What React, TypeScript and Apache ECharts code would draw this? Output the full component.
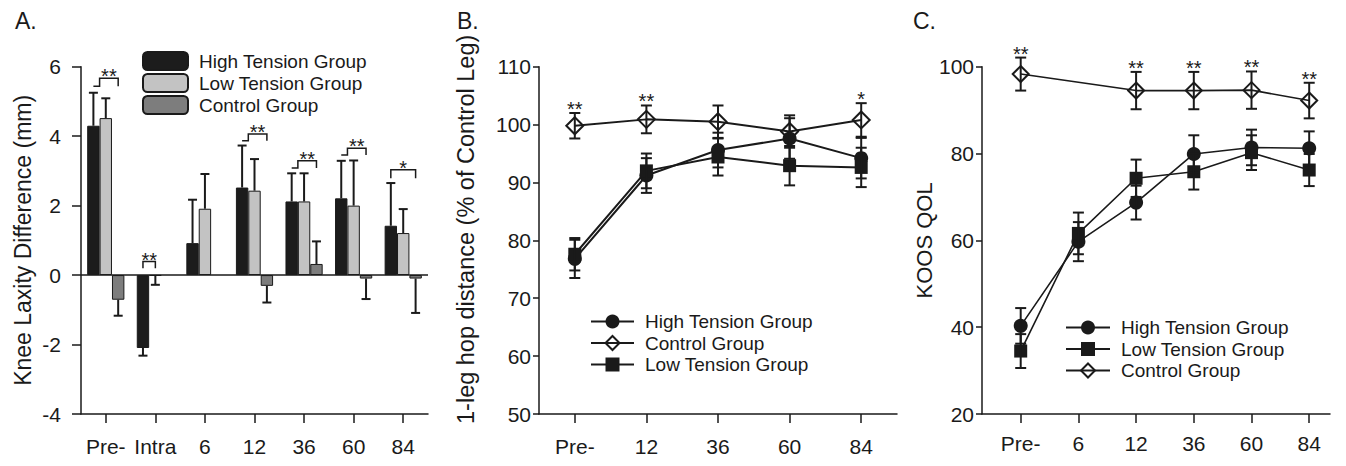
import React, { useEffect, useRef } from 'react';
import * as echarts from 'echarts';

// ---------- Panel A: knee laxity (bars) ----------
const catsA = ['Pre-', 'Intra', '6', '12', '36', '60', '84'];
const highA = [4.3, -2.1, 0.92, 2.52, 2.12, 2.21, 1.42];
const highAErr = [0.95, 0.22, 1.25, 1.21, 0.81, 1.08, 1.23];
const lowA = [4.52, -0.02, 1.91, 2.43, 2.12, 2.0, 1.21];
const lowAErr = [0.57, 0.26, 1.0, 0.91, 0.81, 1.3, 0.69];
const controlA = [-0.71, null, null, -0.31, 0.32, -0.1, -0.1];
const controlAErr = [0.46, null, null, 0.48, 0.65, 0.59, 0.99];
const yMinA = -4;
const yMaxA = 6;
const yStepA = 2;
const bracketCat = [0, 1, 3, 4, 5, 6];
const bracketTop = [5.67, 0.39, 4.06, 3.29, 3.65, 3.03];
const bracketBase = [5.44, 0.2, 3.87, 3.08, 3.46, 2.79];
const bracketKind = ['pair', 'hl', 'pair', 'pair', 'pair', 'hc'];
const bracketStars = ['**', '**', '**', '**', '**', '*'];

// ---------- Panel B: 1-leg hop distance ----------
const catsB = ['Pre-', '12', '36', '60', '84'];
const highB = [76.8, 91.2, 95.6, 97.6, 94.2];
const highBErr = [3.3, 3.0, 3.0, 3.5, 3.5];
const controlB = [99.8, 100.9, 100.5, 98.8, 100.8];
const controlBErr = [2.2, 2.4, 2.8, 2.8, 2.9];
const lowB = [77.6, 92.0, 94.4, 92.9, 92.6];
const lowBErr = [2.8, 3.0, 3.2, 3.4, 3.4];
const starsB = ['**', '**', '', '', '*'];
const yMinB = 50;
const yMaxB = 110;
const yStepB = 10;

// ---------- Panel C: KOOS QOL ----------
const catsC = ['Pre-', '6', '12', '36', '60', '84'];
const highC = [40.3, 59.7, 68.7, 79.9, 81.4, 81.2];
const highCErr = [4.1, 4.5, 3.9, 4.3, 4.1, 3.9];
const lowC = [34.5, 61.6, 74.3, 75.8, 80.2, 76.2];
const lowCErr = [3.9, 4.8, 4.3, 4.1, 4.0, 3.7];
const controlC = [98.3, null, 94.5, 94.5, 94.6, 92.2];
const controlCErr = [3.8, null, 4.3, 4.3, 4.3, 4.1];
const starsC = ['**', '', '**', '**', '**', '**'];
const yMinC = 20;
const yMaxC = 100;
const yStepC = 20;

const names = ['High Tension Group', 'Low Tension Group', 'Control Group'];

const FONT = '"Liberation Sans", Arial, Helvetica, sans-serif';
const INK = '#1a1a1a';

function buildOption() {
  const axisLine = { show: true, onZero: false, lineStyle: { color: INK, width: 1.5 } };
  const tick = (len: number) => ({ show: true, inside: false, length: len, lineStyle: { color: INK, width: 1.5 } });
  const label = (margin: number) => ({ color: INK, fontSize: 21, fontFamily: FONT, margin });

  // error bars for grouped bars
  const errA: number[][] = [];
  [highA, lowA, controlA].forEach((vals, k) => {
    const errs = [highAErr, lowAErr, controlAErr][k];
    vals.forEach((v, i) => {
      if (v != null && errs[i] != null) errA.push([i, v as number, errs[i] as number, k]);
    });
  });

  const lineStyleErr = { stroke: INK, lineWidth: 2, fill: null };

  const errBarsA = {
    type: 'custom',
    xAxisIndex: 0,
    yAxisIndex: 0,
    z: 5,
    silent: true,
    data: errA,
    renderItem: (params: any, api: any) => {
      const ci = api.value(0);
      const v = api.value(1);
      const e = api.value(2);
      const k = api.value(3);
      const band = api.size([1, 0])[0];
      const p0 = api.coord([ci, v]);
      const p1 = api.coord([ci, v >= 0 ? v + e : v - e]);
      const x = p0[0] + (k - 1) * band * 0.25;
      const h = 4.5;
      return {
        type: 'group',
        children: [
          { type: 'line', shape: { x1: x, y1: p0[1], x2: x, y2: p1[1] }, style: lineStyleErr },
          { type: 'line', shape: { x1: x - h, y1: p1[1], x2: x + h, y2: p1[1] }, style: lineStyleErr },
        ],
      };
    },
  };

  const brackets = {
    type: 'custom',
    xAxisIndex: 0,
    yAxisIndex: 0,
    z: 6,
    silent: true,
    data: bracketCat.map((c, j) => [c, bracketTop[j], bracketBase[j], j]),
    renderItem: (params: any, api: any) => {
      const c = api.value(0);
      const j = api.value(3);
      const band = api.size([1, 0])[0];
      const pt = api.coord([c, api.value(1)]);
      const pb = api.coord([c, api.value(2)]);
      const bw = band * 0.25;
      const xh = pt[0] - bw;
      const xl = pt[0];
      const xc = pt[0] + bw;
      const yt = pt[1];
      const yb = pb[1];
      const kind = bracketKind[j];
      let pts: number[][];
      let mid: number;
      if (kind === 'pair') {
        const xm = pt[0] - bw / 2;
        pts = [[xh, yb], [xm, yb], [xm, yt], [xc, yt], [xc, yb]];
        mid = (xm + xc) / 2;
      } else if (kind === 'hl') {
        pts = [[xh, yb], [xh, yt], [xl, yt], [xl, yb]];
        mid = (xh + xl) / 2;
      } else {
        pts = [[xh, yb], [xh, yt], [xc, yt], [xc, yb]];
        mid = (xh + xc) / 2;
      }
      return {
        type: 'group',
        children: [
          { type: 'polyline', shape: { points: pts }, style: { stroke: INK, lineWidth: 1.5, fill: null } },
          {
            type: 'text',
            x: mid,
            y: yt - 2,
            style: {
              text: bracketStars[j],
              fill: INK,
              fontSize: 20,
              lineHeight: 10,
              fontFamily: FONT,
              align: 'center',
              verticalAlign: 'middle',
            },
          },
        ],
      };
    },
  };

  const errSeries = (vals: (number | null)[], errs: (number | null)[], xi: number, yi: number) => ({
    type: 'custom',
    xAxisIndex: xi,
    yAxisIndex: yi,
    z: 4,
    silent: true,
    data: vals
      .map((v, i) => (v == null || errs[i] == null ? null : [i, (v as number) - (errs[i] as number), (v as number) + (errs[i] as number)]))
      .filter((d) => d !== null),
    renderItem: (params: any, api: any) => {
      const x = api.value(0);
      const lo = api.coord([x, api.value(1)]);
      const hi = api.coord([x, api.value(2)]);
      const h = 5.5;
      return {
        type: 'group',
        children: [
          { type: 'line', shape: { x1: lo[0], y1: lo[1], x2: hi[0], y2: hi[1] }, style: lineStyleErr },
          { type: 'line', shape: { x1: lo[0] - h, y1: lo[1], x2: lo[0] + h, y2: lo[1] }, style: lineStyleErr },
          { type: 'line', shape: { x1: hi[0] - h, y1: hi[1], x2: hi[0] + h, y2: hi[1] }, style: lineStyleErr },
        ],
      };
    },
  });

  const starSeries = (stars: string[], vals: (number | null)[], errs: (number | null)[], xi: number, yi: number) => ({
    type: 'custom',
    xAxisIndex: xi,
    yAxisIndex: yi,
    z: 6,
    silent: true,
    data: stars
      .map((s, i) => (s && vals[i] != null ? [i, (vals[i] as number) + (errs[i] as number)] : null))
      .filter((d) => d !== null),
    renderItem: (params: any, api: any) => {
      const i = api.value(0);
      const p = api.coord([i, api.value(1)]);
      return {
        type: 'text',
        x: p[0],
        y: p[1] - 4,
        style: {
          text: stars[i],
          fill: INK,
          fontSize: 20,
          lineHeight: 10,
          fontFamily: FONT,
          align: 'center',
          verticalAlign: 'middle',
        },
      };
    },
  });

  const lineSeries = (name: string, data: (number | null)[], symbol: string, size: any, xi: number, yi: number, hollow = false, width = 2) => ({
    type: 'line',
    name,
    xAxisIndex: xi,
    yAxisIndex: yi,
    data,
    connectNulls: true,
    symbol,
    symbolSize: size,
    showSymbol: true,
    z: 3,
    lineStyle: { color: INK, width },
    itemStyle: hollow
      ? { color: 'rgba(255,255,255,0)', borderColor: INK, borderWidth: 2 }
      : { color: INK, borderColor: INK, borderWidth: 0 },
  });

  const barSeries = (name: string, data: (number | null)[], color: string, extra: any = {}) => ({
    type: 'bar',
    name,
    xAxisIndex: 0,
    yAxisIndex: 0,
    data,
    barWidth: '25%',
    barGap: '0%',
    itemStyle: { color, borderColor: INK, borderWidth: 1 },
    ...extra,
  });

  const strip = (n: string) => n.slice(2);

  const titleStyle = { fontSize: 23, fontWeight: 'normal', color: INK, fontFamily: FONT };
  const legendText = (lh: number) => ({ fontSize: 19, lineHeight: lh, color: INK, fontFamily: FONT, padding: [0, 0, 0, 6] });

  return {
    animation: false,
    backgroundColor: '#ffffff',
    textStyle: { fontFamily: FONT },
    title: [
      { text: 'A.', left: 10, top: 4, textStyle: titleStyle },
      { text: 'B.', left: 452, top: 4, textStyle: titleStyle },
      { text: 'C.', left: 908, top: 4, textStyle: titleStyle },
    ],
    legend: [
      {
        orient: 'vertical',
        left: 142,
        top: 51,
        padding: 0,
        itemWidth: 45,
        itemHeight: 18,
        itemGap: 2,
        selectedMode: false,
        data: names.map((n) => 'A:' + n),
        formatter: strip,
        textStyle: legendText(18),
      },
      {
        orient: 'vertical',
        left: 590,
        top: 312,
        padding: 0,
        itemWidth: 43,
        itemHeight: 17.5,
        itemGap: 2.5,
        selectedMode: false,
        data: ['B:High Tension Group', 'B:Control Group', 'B:Low Tension Group'],
        formatter: strip,
        textStyle: legendText(17.5),
      },
      {
        orient: 'vertical',
        left: 1065,
        top: 318,
        padding: 0,
        itemWidth: 44,
        itemHeight: 17.5,
        itemGap: 2.5,
        selectedMode: false,
        data: ['C:High Tension Group', 'C:Low Tension Group', 'C:Control Group'],
        formatter: strip,
        textStyle: legendText(17.5),
      },
    ],
    grid: [
      { left: 81, top: 66.7, width: 347, height: 347.3 },
      { left: 539, top: 66.7, width: 358, height: 347.3 },
      { left: 982, top: 66.7, width: 348, height: 347.3 },
      { left: 1020.7, top: 66.7, width: 288.5, height: 347.3 },
    ],
    xAxis: [
      {
        type: 'category',
        gridIndex: 0,
        data: catsA,
        position: 'bottom',
        axisLine,
        axisTick: { ...tick(9), alignWithLabel: true },
        axisLabel: { ...label(22), interval: 0 },
        splitLine: { show: false },
      },
      {
        type: 'category',
        gridIndex: 1,
        data: catsB,
        position: 'bottom',
        axisLine,
        axisTick: { ...tick(9), alignWithLabel: true },
        axisLabel: { ...label(22), interval: 0 },
        splitLine: { show: false },
      },
      {
        type: 'value',
        gridIndex: 2,
        min: 0,
        max: 1,
        position: 'bottom',
        axisLine,
        axisTick: { show: false },
        axisLabel: { show: false },
        splitLine: { show: false },
      },
      {
        type: 'category',
        gridIndex: 3,
        data: catsC,
        boundaryGap: false,
        position: 'bottom',
        axisLine: { show: false },
        axisTick: tick(9),
        axisLabel: { ...label(19), interval: 0 },
        splitLine: { show: false },
      },
    ],
    yAxis: [
      {
        type: 'value',
        gridIndex: 0,
        min: yMinA,
        max: yMaxA,
        interval: yStepA,
        axisLine,
        axisTick: tick(9),
        axisLabel: label(20),
        splitLine: { show: false },
        name: 'Knee Laxity Difference (mm)',
        nameLocation: 'middle',
        nameGap: 47,
        nameTextStyle: { fontSize: 23, color: INK, fontFamily: FONT },
      },
      {
        type: 'value',
        gridIndex: 1,
        min: yMinB,
        max: yMaxB,
        interval: yStepB,
        axisLine,
        axisTick: tick(6),
        axisLabel: label(8),
        splitLine: { show: false },
        name: '1-leg hop distance (% of Control Leg)',
        nameLocation: 'middle',
        nameGap: 61,
        nameTextStyle: { fontSize: 23.5, color: INK, fontFamily: FONT, padding: [0, 0, 0, 22] },
      },
      {
        type: 'value',
        gridIndex: 2,
        min: yMinC,
        max: yMaxC,
        interval: yStepC,
        axisLine,
        axisTick: tick(6),
        axisLabel: label(8),
        splitLine: { show: false },
        name: 'KOOS QOL',
        nameLocation: 'middle',
        nameGap: 45,
        nameTextStyle: { fontSize: 22, color: INK, fontFamily: FONT },
      },
      {
        type: 'value',
        gridIndex: 3,
        min: yMinC,
        max: yMaxC,
        interval: yStepC,
        show: false,
        splitLine: { show: false },
      },
    ],
    series: [
      barSeries('A:' + names[0], highA, '#1c1c1c', {
        markLine: {
          silent: true,
          symbol: 'none',
          label: { show: false },
          lineStyle: { color: INK, width: 1.5, type: 'solid' },
          data: [{ yAxis: 0 }],
        },
      }),
      barSeries('A:' + names[1], lowA, '#c3c3c3'),
      barSeries('A:' + names[2], controlA, '#7d7d7d'),
      errBarsA,
      brackets,

      errSeries(highB, highBErr, 1, 1),
      errSeries(lowB, lowBErr, 1, 1),
      errSeries(controlB, controlBErr, 1, 1),
      lineSeries('B:High Tension Group', highB, 'circle', 14, 1, 1),
      lineSeries('B:Control Group', controlB, 'diamond', [17, 17], 1, 1, true),
      lineSeries('B:Low Tension Group', lowB, 'rect', 13, 1, 1),
      starSeries(starsB, controlB, controlBErr, 1, 1),

      errSeries(highC, highCErr, 3, 3),
      errSeries(lowC, lowCErr, 3, 3),
      errSeries(controlC, controlCErr, 3, 3),
      lineSeries('C:High Tension Group', highC, 'circle', 14, 3, 3, false, 1.6),
      lineSeries('C:Low Tension Group', lowC, 'rect', 13, 3, 3, false, 1.6),
      lineSeries('C:Control Group', controlC, 'diamond', [16, 16], 3, 3, true, 1.6),
      starSeries(starsC, controlC, controlCErr, 3, 3),
    ],
  };
}

export default function App() {
  const ref = useRef<HTMLDivElement>(null);
  useEffect(() => {
    if (!ref.current) return;
    const chart = echarts.init(ref.current, null, { renderer: 'svg' });
    chart.setOption(buildOption() as any);
    return () => chart.dispose();
  }, []);
  return (
    <div
      ref={ref}
      style={{ position: 'fixed', left: 0, top: 0, width: 1346, height: 466, background: '#ffffff' }}
    />
  );
}
